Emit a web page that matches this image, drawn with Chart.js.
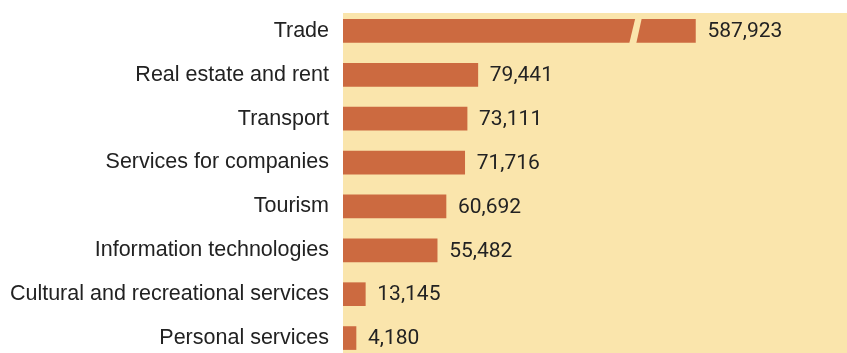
<!doctype html>
<html lang="en">
<head>
<meta charset="utf-8">
<title>Companies by sector</title>
<script src="https://cdn.jsdelivr.net/npm/chart.js@4.4.1/dist/chart.umd.min.js"></script>
<style>
  html, body { margin: 0; padding: 0; background: #fff; overflow: hidden; }
  #wrap { position: relative; width: 847px; height: 360px; }
</style>
</head>
<body>
<div id="wrap"><canvas id="sectorChart"></canvas></div>
<script>
// sectors and number of companies
const sectors = [
  'Trade',
  'Real estate and rent',
  'Transport',
  'Services for companies',
  'Tourism',
  'Information technologies',
  'Cultural and recreational services',
  'Personal services'
];
const companies = [587923, 79441, 73111, 71716, 60692, 55482, 13145, 4180];

// the axis is cut between these two values so the Trade bar fits
const breakFrom = 172500;
const breakTo = 552750;
const axisMax = 297000;

const barColor = '#CC6A40';
const panelColor = '#FAE5AC';
const textColor = '#222222';

// linear scale with a gap cut out of it
class BrokenLinearScale extends Chart.LinearScale {
  getPixelForValue(value) {
    const v = value > breakFrom ? value - (breakTo - breakFrom) : value;
    return super.getPixelForValue(v);
  }
}
BrokenLinearScale.id = 'brokenLinear';
BrokenLinearScale.defaults = Chart.LinearScale.defaults;
Chart.register(BrokenLinearScale);

// yellow panel behind the bars
const panelPlugin = {
  id: 'panel',
  beforeDraw(chart) {
    const { ctx, chartArea } = chart;
    ctx.save();
    ctx.fillStyle = panelColor;
    ctx.fillRect(chartArea.left, chartArea.top + 4, chartArea.right - chartArea.left, chartArea.bottom - chartArea.top);
    ctx.restore();
  }
};

// slash through bars that cross the break + value labels
const barExtras = {
  id: 'barExtras',
  afterDatasetsDraw(chart) {
    const { ctx } = chart;
    const xScale = chart.scales.x;
    const meta = chart.getDatasetMeta(0);
    ctx.save();
    meta.data.forEach((bar, i) => {
      const { x, y, height } = bar.getProps(['x', 'y', 'height'], true);
      const top = y - height / 2 - 1;
      const bottom = y + height / 2 + 1;

      if (companies[i] > breakFrom) {
        const cx = xScale.getPixelForValue(breakFrom);
        ctx.fillStyle = panelColor;
        ctx.beginPath();
        ctx.moveTo(cx - 0.5, top);
        ctx.lineTo(cx + 6, top);
        ctx.lineTo(cx + 0.5, bottom);
        ctx.lineTo(cx - 6.5, bottom);
        ctx.closePath();
        ctx.fill();
      }

      ctx.fillStyle = textColor;
      ctx.font = '21px Roboto';
      ctx.textAlign = 'left';
      ctx.textBaseline = 'middle';
      ctx.fillText(companies[i].toLocaleString('en-US'), x + 12, y + 1);
    });
    ctx.restore();
  }
};

new Chart(document.getElementById('sectorChart'), {
  type: 'bar',
  data: {
    labels: sectors,
    datasets: [{
      data: companies,
      backgroundColor: barColor,
      borderWidth: 0,
      barThickness: 23,
      minBarLength: 13
    }]
  },
  options: {
    indexAxis: 'y',
    responsive: true,
    maintainAspectRatio: false,
    animation: false,
    layout: { padding: { top: 9, right: 0, bottom: 0, left: 0 } },
    plugins: {
      legend: { display: false },
      tooltip: { enabled: false }
    },
    scales: {
      x: {
        type: 'brokenLinear',
        display: false,
        min: 0,
        max: axisMax
      },
      y: {
        grid: { display: false, drawTicks: false },
        border: { display: false },
        ticks: {
          color: textColor,
          padding: 14,
          font: { family: 'Liberation Sans', size: 21.5 }
        },
        afterFit(scale) {
          scale.width = 343;
          scale.paddingTop = 0;
          scale.paddingBottom = 0;
        }
      }
    }
  },
  plugins: [panelPlugin, barExtras]
});
</script>
</body>
</html>
